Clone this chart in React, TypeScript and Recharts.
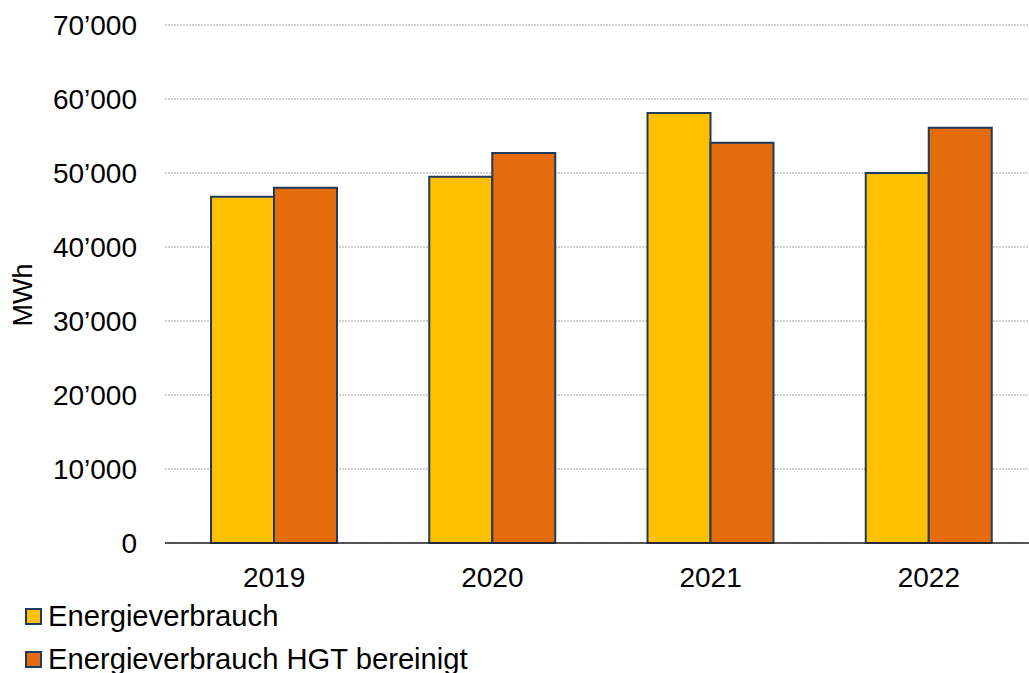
import { BarChart, Bar, XAxis, YAxis, CartesianGrid } from 'recharts';

// Energy consumption per year, raw and heating-degree-day (HGT) adjusted, in MWh
const years = ['2019', '2020', '2021', '2022'];
const verbrauch = [46800, 49500, 58100, 50000];
const verbrauchHgt = [48000, 52700, 54100, 56100];
const yTicks = [0, 10000, 20000, 30000, 40000, 50000, 60000, 70000];

const SERIES = [
  { key: 'verbrauch', name: 'Energieverbrauch', color: '#FFC000' },
  { key: 'verbrauchHgt', name: 'Energieverbrauch HGT bereinigt', color: '#E46C0A' },
];

const EDGE = '#1F3A60';
const FONT = '"Liberation Sans", Arial, sans-serif';

const data = years.map((year, i) => ({
  year,
  verbrauch: verbrauch[i],
  verbrauchHgt: verbrauchHgt[i],
}));

// Swiss style thousands separator: 10’000
const fmt = (n: number) => String(n).replace(/\B(?=(\d{3})+(?!\d))/g, '\u2019');

export default function App() {
  return (
    <div
      style={{
        position: 'absolute',
        left: 0,
        top: 0,
        width: 1029,
        height: 673,
        overflow: 'hidden',
        background: '#fff',
        fontFamily: FONT,
      }}
    >
      <BarChart
        width={1040}
        height={673}
        data={data}
        margin={{ top: 25, right: 2, left: 0, bottom: 100 }}
        barCategoryGap={46}
        barGap={0}
      >
        <CartesianGrid vertical={false} stroke="#a6a6a6" strokeDasharray="2 1" />
        <XAxis
          dataKey="year"
          height={30}
          tickLine={false}
          tickSize={0}
          tickMargin={24}
          axisLine={{ stroke: '#262626', strokeWidth: 1.5 }}
          tick={{ fill: '#000', fontSize: 28, fontFamily: FONT }}
        />
        <YAxis
          width={165}
          domain={[0, 70000]}
          ticks={yTicks}
          tickFormatter={fmt}
          axisLine={false}
          tickLine={false}
          tickSize={0}
          tickMargin={28}
          tick={{ fill: '#000', fontSize: 28, fontFamily: FONT }}
          label={{
            content: ({ viewBox }: any) => (
              <text
                x={(viewBox?.x ?? 0) + 23}
                y={295}
                transform={`rotate(-90 ${(viewBox?.x ?? 0) + 23} 295)`}
                textAnchor="middle"
                dominantBaseline="central"
                fontSize={27}
                fontFamily={FONT}
                fill="#000"
              >
                MWh
              </text>
            ),
          }}
        />
        {SERIES.map((s) => (
          <Bar
            key={s.key}
            dataKey={s.key}
            name={s.name}
            fill={s.color}
            stroke={EDGE}
            strokeWidth={2}
            isAnimationActive={false}
          />
        ))}
      </BarChart>
      <div style={{ position: 'absolute', left: 25, top: 595 }}>
        {SERIES.map((s) => (
          <div
            key={s.key}
            style={{ display: 'flex', alignItems: 'center', height: 43, fontSize: 29.2, color: '#000' }}
          >
            <span
              style={{
                display: 'inline-block',
                width: 13,
                height: 13,
                background: s.color,
                border: `2px solid ${EDGE}`,
                marginRight: 6,
              }}
            />
            {s.name}
          </div>
        ))}
      </div>
    </div>
  );
}
